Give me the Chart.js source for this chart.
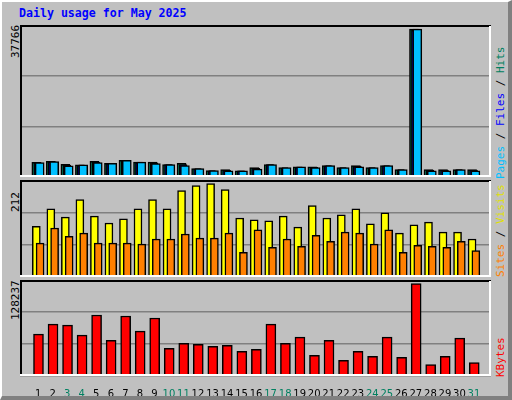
<!DOCTYPE html>
<html>
<head>
<meta charset="utf-8">
<script src="https://cdn.jsdelivr.net/npm/chart.js@4"></script>
<style>
  body { margin: 0; background: #c0c0c0; }
  #frame { position: absolute; left: 0; top: 0;
           border-left: 2px solid #fff; border-top: 2px solid #fff;
           border-right: 4px solid #808080; border-bottom: 4px solid #808080; box-sizing: content-box; width: 506px; height: 394px; }
  canvas { position: absolute; }
  .t { position: absolute; font-family: "DejaVu Sans Mono", monospace; white-space: nowrap; }
  .rot { transform: rotate(-90deg); transform-origin: left top; font-size: 11px; }
</style>
</head>
<body>
<div id="frame"></div>
<div class="t" style="left:19px;top:6px;font-size:11.6px;font-weight:bold;color:#0000ff">Daily usage for May 2025</div>
<div class="t rot" style="left:9px;top:58px;color:#000">37766</div>
<div class="t rot" style="left:9px;top:212px;color:#000">212</div>
<div class="t rot" style="left:9px;top:320px;color:#000">128237</div>
<div class="t rot" style="left:494px;top:179px;"><span style="color:#00c0ff">Pages</span> / <span style="color:#0000ff">Files</span> / <span style="color:#008060">Hits</span></div>
<div class="t rot" style="left:494px;top:277px;"><span style="color:#ff8000">Sites</span> / <span style="color:#e0e000">Visits</span></div>
<div class="t rot" style="left:494px;top:377px;color:#ff0000">KBytes</div>

<canvas id="c1" width="471" height="152" style="left:20px;top:25px"></canvas>
<canvas id="c2" width="471" height="97" style="left:20px;top:180px"></canvas>
<canvas id="c3" width="471" height="116" style="left:20px;top:280px"></canvas>

<script>
const days = Array.from({length: 31}, (_, i) => i + 1);
const weekends = [3, 4, 10, 11, 17, 18, 24, 25, 31];

const hits   = [3760, 4000, 3250, 3100, 4000, 3500, 4250, 3800, 3800, 3200, 3500, 2150, 1650, 1900, 1600, 2400,
                3200, 2400, 2600, 2600, 2900, 2400, 2900, 2400, 2900, 1900, 37766, 1900, 1900, 1900, 1900];
const files  = [3600, 3900, 3050, 3000, 3800, 3400, 4150, 3700, 3600, 3150, 3200, 2100, 1600, 1700, 1550, 2200,
                3150, 2300, 2500, 2450, 2850, 2350, 2700, 2350, 2850, 1850, 37500, 1700, 1700, 1850, 1700];
const pages  = [3700, 3950, 2870, 3100, 3700, 3500, 4250, 3800, 3400, 3200, 2900, 2150, 1650, 1550, 1600, 2000,
                3200, 2400, 2600, 2400, 2900, 2400, 2600, 2400, 2900, 1900, 37766, 1550, 1550, 1900, 1550];
const visits = [111, 149, 131, 169, 133, 118, 127, 149, 169, 149, 189, 200, 204, 191, 129, 125,
                123, 133, 109, 156, 129, 136, 149, 116, 140, 96, 114, 120, 98, 98, 83];
const sites  = [74, 107, 89, 96, 74, 74, 74, 72, 83, 83, 94, 85, 85, 96, 54, 103,
                65, 83, 67, 91, 78, 98, 96, 72, 103, 54, 69, 67, 65, 78, 58];
const kbytes = [58100, 72100, 70700, 56700, 84700, 49700, 83300, 62300, 80500, 38400, 45500, 44000, 41200, 42600, 34200, 37000,
                72100, 45500, 53900, 28600, 49700, 21600, 34200, 27200, 53900, 25800, 128237, 16000, 27200, 52500, 18800];

const frame = {
    id: 'frame',
    afterDraw(chart) {
        const a = chart.chartArea, ctx = chart.ctx;
        ctx.save();
        ctx.lineWidth = 2;
        ctx.strokeStyle = '#000';
        ctx.beginPath();
        ctx.moveTo(a.left + 1, a.bottom); ctx.lineTo(a.left + 1, a.top + 1); ctx.lineTo(a.right, a.top + 1);
        ctx.stroke();
        ctx.strokeStyle = '#fff';
        ctx.beginPath();
        ctx.moveTo(a.right - 1, a.top + 1); ctx.lineTo(a.right - 1, a.bottom - 1); ctx.lineTo(a.left, a.bottom - 1);
        ctx.stroke();
        ctx.restore();
    }
};

function bars(data, offset, color, w, order) {
    return {
        data: data.map((v, i) => ({x: days[i] + offset, y: v})),
        backgroundColor: color, borderColor: '#000', borderWidth: 1.5,
        borderSkipped: 'bottom', barThickness: w, order: order, grouped: false
    };
}

function makeChart(id, datasets, ymax, showX) {
    new Chart(document.getElementById(id), {
        type: 'bar',
        data: {datasets: datasets},
        options: {
            responsive: false, animation: false, devicePixelRatio: 1,
            plugins: {legend: {display: false}, tooltip: {enabled: false}},
            layout: {padding: 0},
            scales: {
                x: {
                    type: 'linear', min: 0.27, max: 31.65,
                    grid: {display: false}, border: {display: false},
                    afterBuildTicks: s => { s.ticks = days.map(d => ({value: d})); },
                    afterFit: s => { s.height = showX ? 20 : 0; },
                    ticks: {
                        display: showX, autoSkip: false, maxRotation: 0, padding: 4,
                        font: {family: 'DejaVu Sans', size: 10},
                        color: c => weekends.includes(c.tick.value) ? '#008060' : '#000'
                    }
                },
                y: {
                    min: 0, max: ymax,
                    afterBuildTicks: s => { s.ticks = [0, 1, 2, 3].map(k => ({value: ymax * k / 3})); },
                    afterFit: s => { s.width = 0; },
                    ticks: {display: false},
                    grid: {color: '#808080', lineWidth: 1.5, drawTicks: false},
                    border: {display: false}
                }
            }
        },
        plugins: [frame]
    });
}

makeChart('c1', [
    bars(hits, -0.13, '#008060', 9, 3),
    bars(files, -0.03, '#0000ff', 8, 2),
    bars(pages, 0.1, '#00c0ff', 9, 1)
], 38840, false);

makeChart('c2', [
    bars(visits, -0.13, '#ffff00', 8, 2),
    bars(sites, 0.13, '#ff8000', 8, 1)
], 212, false);

makeChart('c3', [
    bars(kbytes, 0.02, '#ff0000', 10, 1)
], 133300, true);
</script>
</body>
</html>
